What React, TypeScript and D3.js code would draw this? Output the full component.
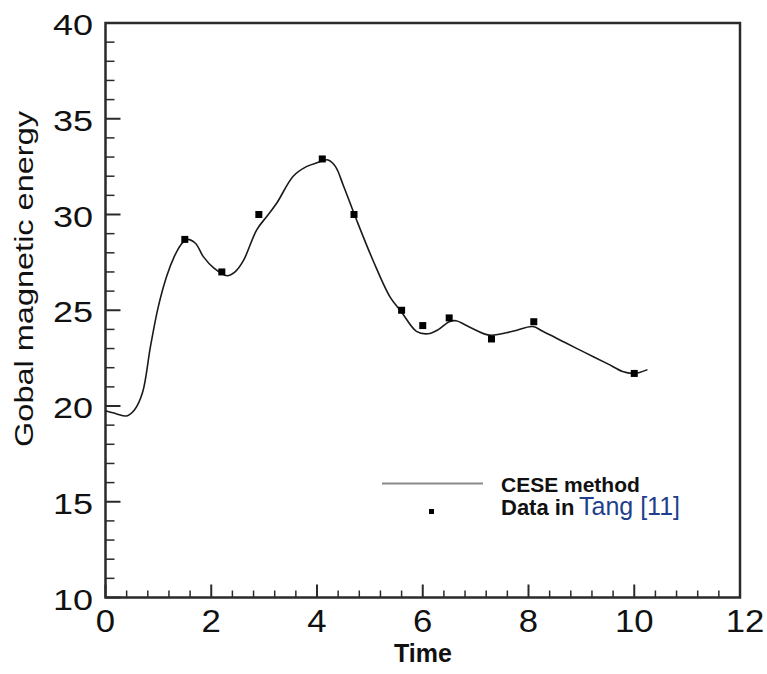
import React from "react";
import * as d3 from "d3";

const ceseX = [0, 0.2, 0.4, 0.55, 0.7, 0.85, 1.0, 1.16, 1.3, 1.42, 1.54, 1.7, 1.85, 2.05, 2.3, 2.45, 2.61, 2.86, 3.05, 3.24, 3.55, 3.8, 4.0, 4.21, 4.35, 4.5, 4.75, 5.06, 5.38, 5.6, 5.88, 6.1, 6.3, 6.5, 6.63, 6.9, 7.26, 7.7, 8.08, 8.27, 8.7, 9.09, 9.5, 9.78, 9.97, 10.1, 10.25];
const ceseY = [19.75, 19.6, 19.48, 19.8, 20.7, 23.1, 25.2, 26.8, 27.8, 28.4, 28.7, 28.5, 27.8, 27.2, 26.8, 27.0, 27.6, 29.2, 29.9, 30.6, 32.0, 32.5, 32.7, 32.85, 32.5, 31.5, 29.7, 27.6, 25.7, 24.9, 23.9, 23.77, 24.0, 24.4, 24.45, 24.1, 23.7, 23.9, 24.15, 23.9, 23.3, 22.76, 22.2, 21.8, 21.7, 21.75, 21.9];

const tangX = [1.5, 2.2, 2.9, 4.1, 4.7, 5.6, 6.0, 6.5, 7.3, 8.1, 10.0];
const tangY = [28.7, 27.0, 30.0, 32.9, 30.0, 25.0, 24.2, 24.6, 23.5, 24.4, 21.7];

const xMajor = [0, 2, 4, 6, 8, 10, 12];
const yMajor = [10, 15, 20, 25, 30, 35, 40];

const W = 767;
const H = 674;
const L = 105.5, R = 740, T = 23, B = 597.5;

export default function App() {
  const x = d3.scaleLinear().domain([0, 12]).range([L, R]);
  const y = d3.scaleLinear().domain([10, 40]).range([B, T]);

  const xMinor = d3.range(0, 12.0001, 0.4).filter((v) => Math.abs(v / 2 - Math.round(v / 2)) > 1e-6);
  const yMinor = d3.range(10, 40.0001, 1).filter((v) => v % 5 !== 0);

  const pts: [number, number][] = ceseX.map((v, i) => [v, ceseY[i]]);
  const line = d3
    .line<[number, number]>()
    .x((d) => x(d[0]))
    .y((d) => y(d[1]))
    .curve(d3.curveCatmullRom.alpha(0.5));

  const font = "'Liberation Sans', Arial, sans-serif";
  const axisColor = "#2a2a2a";

  return (
    <svg
      width={W}
      height={H}
      style={{ position: "absolute", left: 0, top: 0, background: "#fff" }}
      fontFamily={font}
    >
      <rect x={0} y={0} width={W} height={H} fill="#fff" />

      {/* minor ticks */}
      {xMinor.map((v) => (
        <line key={"xm" + v} x1={x(v)} x2={x(v)} y1={B} y2={B - 7} stroke={axisColor} strokeWidth={1.5} />
      ))}
      {xMajor.map((v) => (
        <line key={"xM" + v} x1={x(v)} x2={x(v)} y1={B} y2={B - 13} stroke={axisColor} strokeWidth={2} />
      ))}
      {yMinor.map((v) => (
        <line key={"ym" + v} x1={L} x2={L + 9} y1={y(v)} y2={y(v)} stroke={axisColor} strokeWidth={1.5} />
      ))}
      {yMajor.map((v) => (
        <line key={"yM" + v} x1={L} x2={L + 15} y1={y(v)} y2={y(v)} stroke={axisColor} strokeWidth={2} />
      ))}

      {/* frame */}
      <rect x={L} y={T} width={R - L} height={B - T} fill="none" stroke={axisColor} strokeWidth={2.5} />

      {/* tick labels */}
      {yMajor.map((v) => (
        <text
          key={"yl" + v}
          transform={`translate(${93},${y(v) + 12}) scale(1.2,1)`}
          textAnchor="end"
          fontSize={30}
          fill="#111"
        >
          {v}
        </text>
      ))}
      {xMajor.map((v) => (
        <text
          key={"xl" + v}
          transform={`translate(${x(v) + (v === 12 ? 5 : 0)},${632}) scale(1.12,1)`}
          textAnchor="middle"
          fontSize={31}
          fill="#111"
        >
          {v}
        </text>
      ))}

      {/* axis titles */}
      <text x={423} y={662} textAnchor="middle" fontSize={25} fontWeight="bold" fill="#111">
        Time
      </text>
      <text
        transform={`translate(33,279) rotate(-90) scale(1.3,1)`}
        textAnchor="middle"
        fontSize={25}
        fill="#111"
      >
        Gobal magnetic energy
      </text>

      {/* CESE curve */}
      <path d={line(pts) || ""} fill="none" stroke="#1a1a1a" strokeWidth={1.6} />

      {/* Tang data */}
      {tangX.map((v, i) => (
        <rect key={"p" + i} x={x(v) - 3.5} y={y(tangY[i]) - 3.5} width={7} height={7} fill="#000" />
      ))}

      {/* legend */}
      <line x1={382} x2={483} y1={483.5} y2={483.5} stroke="#8a8a8a" strokeWidth={2} />
      <rect x={429} y={509} width={5} height={5} fill="#000" />
      <text x={501} y={491.5} fontSize={21} fontWeight="bold" fill="#111">
        CESE method
      </text>
      <text x={501} y={515} fontSize={22} fontWeight="bold" fill="#111">
        Data in
      </text>
      <text x={579} y={515} fontSize={25} fill="#1f3f8c">
        Tang [11]
      </text>
    </svg>
  );
}
